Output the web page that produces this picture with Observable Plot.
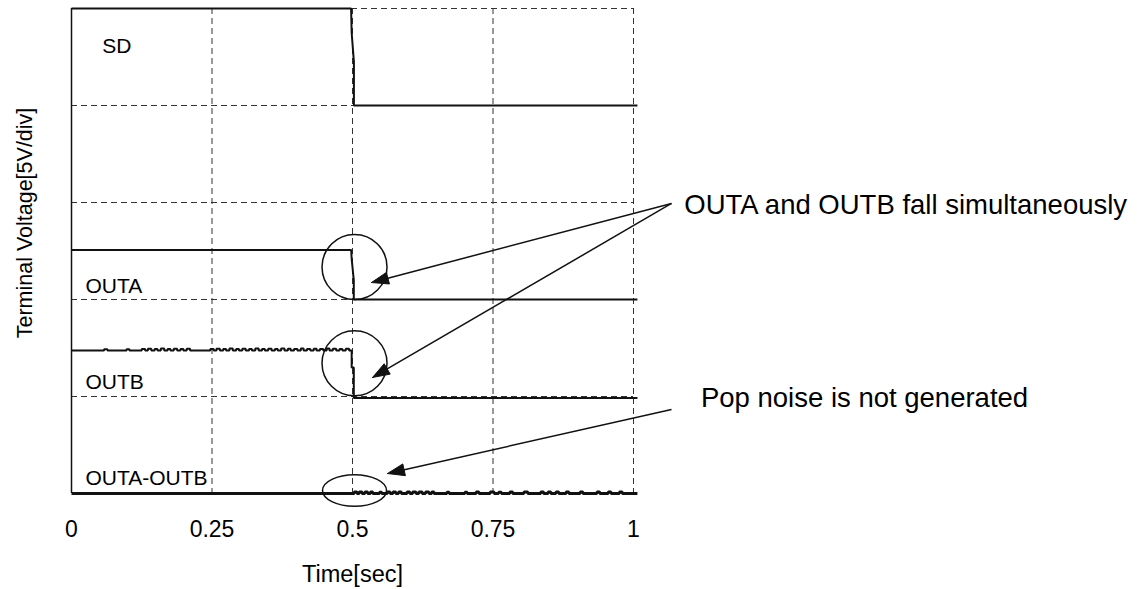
<!DOCTYPE html>
<html><head><meta charset="utf-8">
<script src="https://cdn.jsdelivr.net/npm/d3@7"></script>
<script src="https://cdn.jsdelivr.net/npm/@observablehq/plot@0.6"></script>
<style>body{margin:0;background:#fff}</style>
</head><body><div id="chart"></div>
<script>
// ---------- data (time in sec, level in divisions of 5 V) ----------
const xTicks = [0, 0.25, 0.5, 0.75, 1];
const gridTimes = [0.25, 0.5, 0.75, 1];
const gridLevels = [1, 2, 3, 4, 5];

const sdTime  = [0, 0.4975, 0.4985, 0.5025, 0.5025, 1.007];
const sdLevel = [5, 5, 4.75, 4.45, 4.0, 4.0];

const outaTime  = [0, 0.4977, 0.4985, 0.5023, 0.5023, 1.007];
const outaLevel = [2.51, 2.51, 2.42, 2.2, 2.0, 2.0];

const outbTime = [0, 0.058, 0.064, 0.098, 0.103, 0.125, 0.131, 0.136, 0.142, 0.148, 0.153, 0.159, 0.165, 0.171, 0.176, 0.182, 0.188, 0.194, 0.199, 0.205, 0.211, 0.247, 0.253, 0.258, 0.264, 0.270, 0.275, 0.281, 0.287, 0.293, 0.298, 0.304, 0.310, 0.316, 0.321, 0.327, 0.333, 0.339, 0.344, 0.350, 0.356, 0.362, 0.367, 0.373, 0.379, 0.385, 0.390, 0.396, 0.402, 0.408, 0.413, 0.419, 0.425, 0.431, 0.436, 0.442, 0.448, 0.454, 0.459, 0.465, 0.471, 0.477, 0.482, 0.488, 0.494, 0.4975, 0.4985, 0.5023, 0.5023, 1.007];
const outbLevel = [1.474, 1.488, 1.474, 1.488, 1.474, 1.490, 1.474, 1.492, 1.474, 1.490, 1.474, 1.494, 1.474, 1.490, 1.474, 1.492, 1.474, 1.489, 1.474, 1.491, 1.474, 1.490, 1.474, 1.492, 1.474, 1.490, 1.474, 1.494, 1.474, 1.490, 1.474, 1.492, 1.474, 1.490, 1.474, 1.494, 1.474, 1.490, 1.474, 1.492, 1.474, 1.490, 1.474, 1.494, 1.474, 1.491, 1.474, 1.490, 1.474, 1.494, 1.474, 1.490, 1.474, 1.492, 1.474, 1.490, 1.474, 1.494, 1.474, 1.491, 1.474, 1.490, 1.474, 1.492, 1.474, 1.474, 1.30, 1.05, 0.985, 0.985];

const diffTime = [0, 0.5, 0.503, 0.508, 0.512, 0.517, 0.522, 0.527, 0.532, 0.536, 0.548, 0.552, 0.562, 0.567, 0.572, 0.577, 0.582, 0.587, 0.597, 0.602, 0.607, 0.613, 0.618, 0.624, 0.630, 0.636, 0.641, 0.645, 0.668, 0.672, 0.700, 0.704, 0.720, 0.725, 0.745, 0.752, 0.760, 0.765, 0.780, 0.785, 0.805, 0.812, 0.835, 0.840, 0.848, 0.853, 0.862, 0.867, 0.880, 0.885, 0.905, 0.910, 0.935, 0.940, 0.955, 0.960, 0.975, 0.980, 1.007];
const diffLevel = [0, 0, 0.015, 0, 0.015, 0, 0.015, 0, 0.015, 0, 0.013, 0, 0.015, 0, 0.015, 0, 0.015, 0, 0.015, 0, 0.015, 0, 0.015, 0, 0.015, 0, 0.015, 0, 0.013, 0, 0.013, 0, 0.015, 0, 0.015, 0, 0.013, 0, 0.015, 0, 0.015, 0, 0.015, 0, 0.015, 0, 0.015, 0, 0.015, 0, 0.015, 0, 0.015, 0, 0.015, 0, 0.015, 0, 0];

const signalNames  = ["SD", "OUTA", "OUTB", "OUTA-OUTB"];
const signalLabelTime  = [0.0546, 0.0249, 0.0249, 0.0249];
const signalLabelLevel = [4.61, 2.134, 1.147, 0.155];

const circleTime  = [0.5036, 0.5036];
const circleLevel = [2.335, 1.343];
const ellipseTime  = [0.5036];
const ellipseLevel = [0.031];

const arrowFromTime  = [1.0676, 1.0676, 1.0676];
const arrowFromLevel = [2.99, 2.99, 0.866];
const arrowToTime    = [0.5338, 0.5356, 0.5623];
const arrowToLevel   = [2.175, 1.196, 0.206];

const notes = ["OUTA and OUTB fall simultaneously", "Pop noise is not generated"];
const noteTime  = [1.0905, 1.1200];
const noteLevel = [2.974, 0.979];

const axisTitles = ["Time[sec]", "Terminal Voltage[5V/div]"];

// ---------- layout ----------
const W = 1144, H = 589, ML = 71, MR = 511, MT = 8, MB = 96;
const kx = (W - ML - MR), ky = (H - MT - MB) / 5;
const FONT = "'Liberation Sans', Arial, Helvetica, sans-serif";

const toRows = (times, levels) => times.map((t, i) => ({t, v: levels[i]}));

// arrowheads (filled triangles), computed in pixel units then mapped back
const HL = 17, HW = 6;
const heads = [], shafts = [];
arrowToTime.forEach((_, i) => {
  const x1 = arrowFromTime[i] * kx, y1 = -arrowFromLevel[i] * ky;
  const x2 = arrowToTime[i] * kx, y2 = -arrowToLevel[i] * ky;
  const dx = x2 - x1, dy = y2 - y1, L = Math.hypot(dx, dy), ux = dx / L, uy = dy / L;
  const bx = x2 - ux * HL, by = y2 - uy * HL;
  const pts = [[x2, y2], [bx - uy * HW, by + ux * HW], [bx + uy * HW, by - ux * HW], [x2, y2]];
  pts.forEach(([px, py]) => heads.push({id: i, t: px / kx, v: -py / ky}));
  shafts.push({t1: arrowFromTime[i], v1: arrowFromLevel[i], t2: (bx + ux * 2) / kx, v2: -(by + uy * 2) / ky});
});

const ellipseSymbol = {
  draw(ctx, size) {
    const r = Math.sqrt(size / Math.PI), rx = r, ry = r * 0.49, k = 0.5523;
    ctx.moveTo(rx, 0);
    ctx.bezierCurveTo(rx, ry * k, rx * k, ry, 0, ry);
    ctx.bezierCurveTo(-rx * k, ry, -rx, ry * k, -rx, 0);
    ctx.bezierCurveTo(-rx, -ry * k, -rx * k, -ry, 0, -ry);
    ctx.bezierCurveTo(rx * k, -ry, rx, -ry * k, rx, 0);
    ctx.closePath();
  }
};

const lineStyle = {x: "t", y: "v", stroke: "#111", strokeWidth: 2, strokeLinejoin: "miter", strokeLinecap: "butt"};

// pixel -> data helpers for title placement
const yTitlePos = {t: (25 - ML) / kx, v: (H - MB - 222.5) / ky};

const chart = Plot.plot({
  width: W, height: H,
  marginLeft: ML, marginRight: MR, marginTop: MT, marginBottom: MB,
  style: {fontFamily: FONT, fontSize: "23px", color: "#000", background: "#fff", overflow: "visible"},
  x: {domain: [0, 1], ticks: xTicks, tickSize: 0, tickPadding: 27, label: null, tickFormat: d => String(d)},
  y: {domain: [0, 5], axis: null},
  marks: [
    Plot.ruleY(gridLevels, {y: d => d, stroke: "#333", strokeWidth: 1, strokeDasharray: "6,4"}),
    Plot.ruleX(gridTimes, {x: d => d, stroke: "#333", strokeWidth: 1, strokeDasharray: "6,4"}),
    Plot.ruleX([0], {x: d => d, stroke: "#111", strokeWidth: 1.5}),
    Plot.line(toRows(sdTime, sdLevel), {...lineStyle}),
    Plot.line(toRows(outaTime, outaLevel), {...lineStyle}),
    Plot.line(toRows(outbTime, outbLevel), {...lineStyle, curve: "step-after"}),
    Plot.line(toRows(diffTime, diffLevel), {...lineStyle, strokeWidth: 3, curve: "step-after"}),
    Plot.text(signalNames.map((s, i) => ({s, t: signalLabelTime[i], v: signalLabelLevel[i]})),
      {x: "t", y: "v", text: "s", textAnchor: "start", lineAnchor: "middle", fontSize: 21, fill: "#000"}),
    Plot.dot(toRows(circleTime, circleLevel), {x: "t", y: "v", r: 32.5, stroke: "#111", strokeWidth: 1.5, fill: "none"}),
    Plot.dot(toRows(ellipseTime, ellipseLevel), {x: "t", y: "v", r: 32, symbol: ellipseSymbol, stroke: "#111", strokeWidth: 1.5, fill: "none"}),
    Plot.link(shafts, {x1: "t1", y1: "v1", x2: "t2", y2: "v2", stroke: "#111", strokeWidth: 1.5}),
    Plot.line(heads, {x: "t", y: "v", z: "id", fill: "#111", stroke: "#111", strokeWidth: 1, curve: "linear"}),
    Plot.text(notes.map((s, i) => ({s, t: noteTime[i], v: noteLevel[i]})),
      {x: "t", y: "v", text: "s", textAnchor: "start", lineAnchor: "middle", fontSize: 27.5, fill: "#000"}),
    Plot.text([axisTitles[0]], {text: d => d, frameAnchor: "bottom", dy: 81, lineAnchor: "middle", fontSize: 23.5, fill: "#000"}),
    Plot.text([{s: axisTitles[1], ...yTitlePos}], {x: "t", y: "v", text: "s", rotate: -90, textAnchor: "middle", lineAnchor: "middle", fontSize: 21.5, fill: "#000"})
  ]
});
document.getElementById("chart").appendChild(chart);
</script>
</body></html>
